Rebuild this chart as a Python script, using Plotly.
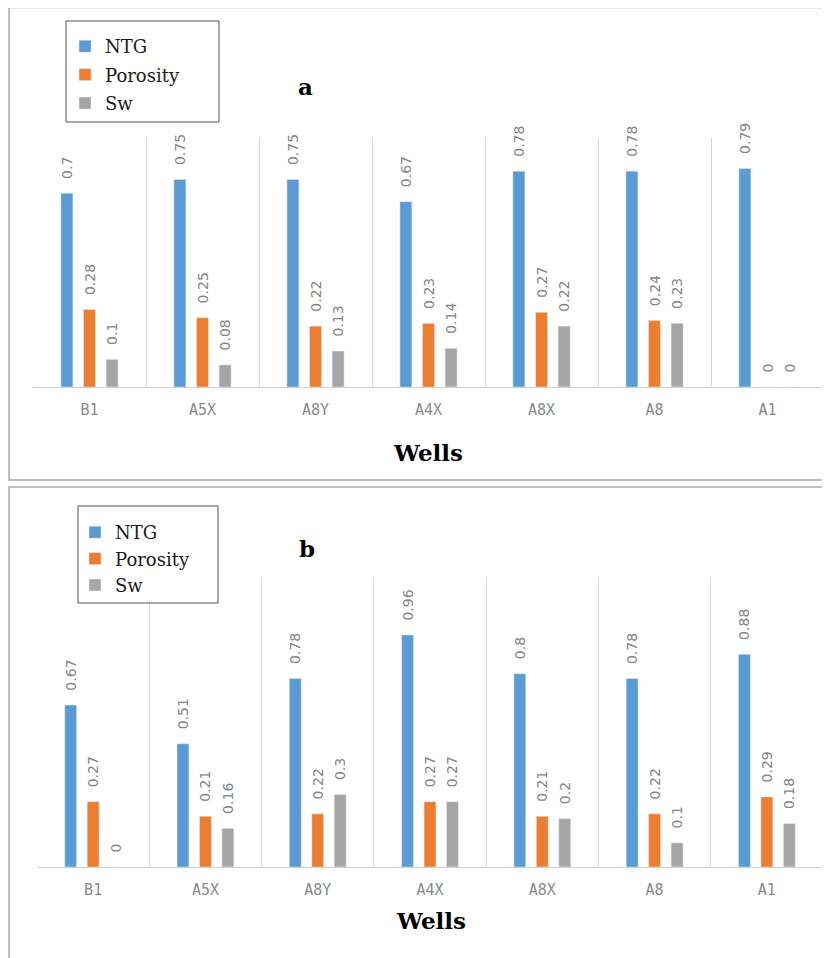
import plotly.graph_objects as go

# The page body adds an 8px margin, so the figure is slightly smaller
# and all target positions are given in screen pixels.
OFF = 8
W, H = 822, 950

wells = ["B1", "A5X", "A8Y", "A4X", "A8X", "A8", "A1"]
series_names = ["NTG", "Porosity", "Sw"]
colors = ["#5B9BD5", "#ED7D31", "#A5A5A5"]

# Panel a
ntg_a = [0.70, 0.75, 0.75, 0.67, 0.78, 0.78, 0.79]
por_a = [0.28, 0.25, 0.22, 0.23, 0.27, 0.24, 0.00]
sw_a = [0.10, 0.08, 0.13, 0.14, 0.22, 0.23, 0.00]

# Panel b
ntg_b = [0.67, 0.51, 0.78, 0.96, 0.80, 0.78, 0.88]
por_b = [0.27, 0.21, 0.22, 0.27, 0.21, 0.22, 0.29]
sw_b = [0.00, 0.16, 0.30, 0.27, 0.20, 0.10, 0.18]


def px(x):
    return (x - OFF) / W


def py(y):
    return 1 - (y - OFF) / H


# rotated labels read bottom-to-top; a little leading padding lifts them off the bar
PAD = "\u2002\u00a0"


def labels(vals):
    return [PAD + f"{v:g}" for v in vals]


fig = go.Figure()

label_font = dict(family="DejaVu Sans", size=14, color="#858585")

for vals, name, col in zip([ntg_a, por_a, sw_a], series_names, colors):
    fig.add_trace(go.Bar(
        x=wells, y=vals, name=name, marker_color=col,
        text=labels(vals), textposition="outside", textangle=-90,
        textfont=label_font, cliponaxis=False, constraintext="none",
        xaxis="x", yaxis="y", legend="legend", legendgroup="a" + name,
    ))

for vals, name, col in zip([ntg_b, por_b, sw_b], series_names, colors):
    fig.add_trace(go.Bar(
        x=wells, y=vals, name=name, marker_color=col,
        text=labels(vals), textposition="outside", textangle=-90,
        textfont=label_font, cliponaxis=False, constraintext="none",
        xaxis="x2", yaxis="y2", legend="legend2", legendgroup="b" + name,
    ))

xcommon = dict(
    type="category", tickson="boundaries", showgrid=True, gridcolor="#D9D9D9",
    gridwidth=1, showline=True, linecolor="#D0D0D0", linewidth=1, ticks="",
    tickfont=dict(family="DejaVu Sans Mono", size=15, color="#8A8A8A"),
    ticklabelstandoff=9, automargin=False, zeroline=False,
)
ycommon = dict(visible=False, showgrid=False, zeroline=False, fixedrange=True)

legend_font = dict(family="DejaVu Serif", size=18, color="#1a1a1a")
title_font = dict(family="DejaVu Serif", size=23, color="black")

fig.update_layout(
    width=W, height=H,
    margin=dict(l=0, r=0, t=0, b=0),
    paper_bgcolor="white", plot_bgcolor="white",
    barmode="group", bargap=0.40, bargroupgap=0.47,
    xaxis=dict(domain=[px(33), px(824)], anchor="y", **xcommon),
    yaxis=dict(domain=[py(387), py(138)], range=[0, 0.9], anchor="x", **ycommon),
    xaxis2=dict(domain=[px(37), px(823)], anchor="y2", **xcommon),
    yaxis2=dict(domain=[py(867), py(577)], range=[0, 1.2], anchor="x2", **ycommon),
    legend=dict(x=px(65), y=py(28), xanchor="left", yanchor="top",
                bgcolor="rgba(0,0,0,0)", borderwidth=0, font=legend_font,
                tracegroupgap=2, traceorder="grouped"),
    legend2=dict(x=px(75), y=py(514), xanchor="left", yanchor="top",
                 bgcolor="rgba(0,0,0,0)", borderwidth=0, font=legend_font,
                 tracegroupgap=0, traceorder="grouped"),
    shapes=[
        # panel frames
        dict(type="rect", xref="paper", yref="paper", x0=px(9), x1=px(845),
             y0=py(480), y1=py(7.5), line=dict(color="#ABABAB", width=1.5),
             fillcolor="rgba(0,0,0,0)", layer="below"),
        dict(type="rect", xref="paper", yref="paper", x0=px(9), x1=px(845),
             y0=py(975), y1=py(487), line=dict(color="#ABABAB", width=1.5),
             fillcolor="rgba(0,0,0,0)", layer="below"),
        # legend boxes
        dict(type="rect", xref="paper", yref="paper", x0=px(66), x1=px(219),
             y0=py(122), y1=py(21), line=dict(color="#555555", width=1),
             fillcolor="white", layer="above"),
        dict(type="rect", xref="paper", yref="paper", x0=px(78), x1=px(218),
             y0=py(603), y1=py(506), line=dict(color="#555555", width=1),
             fillcolor="white", layer="above"),
    ],
    annotations=[
        dict(text="<b>a</b>", x=px(305), y=py(71), xref="paper", yref="paper",
             showarrow=False, font=title_font),
        dict(text="<b>b</b>", x=px(307), y=py(548), xref="paper", yref="paper",
             showarrow=False, font=title_font),
        dict(text="<b>Wells</b>", x=px(428), y=py(452), xref="paper", yref="paper",
             showarrow=False, font=title_font),
        dict(text="<b>Wells</b>", x=px(431), y=py(936), xref="paper", yref="paper",
             showarrow=False, font=title_font),
    ],
)

fig.write_html("out.html")
